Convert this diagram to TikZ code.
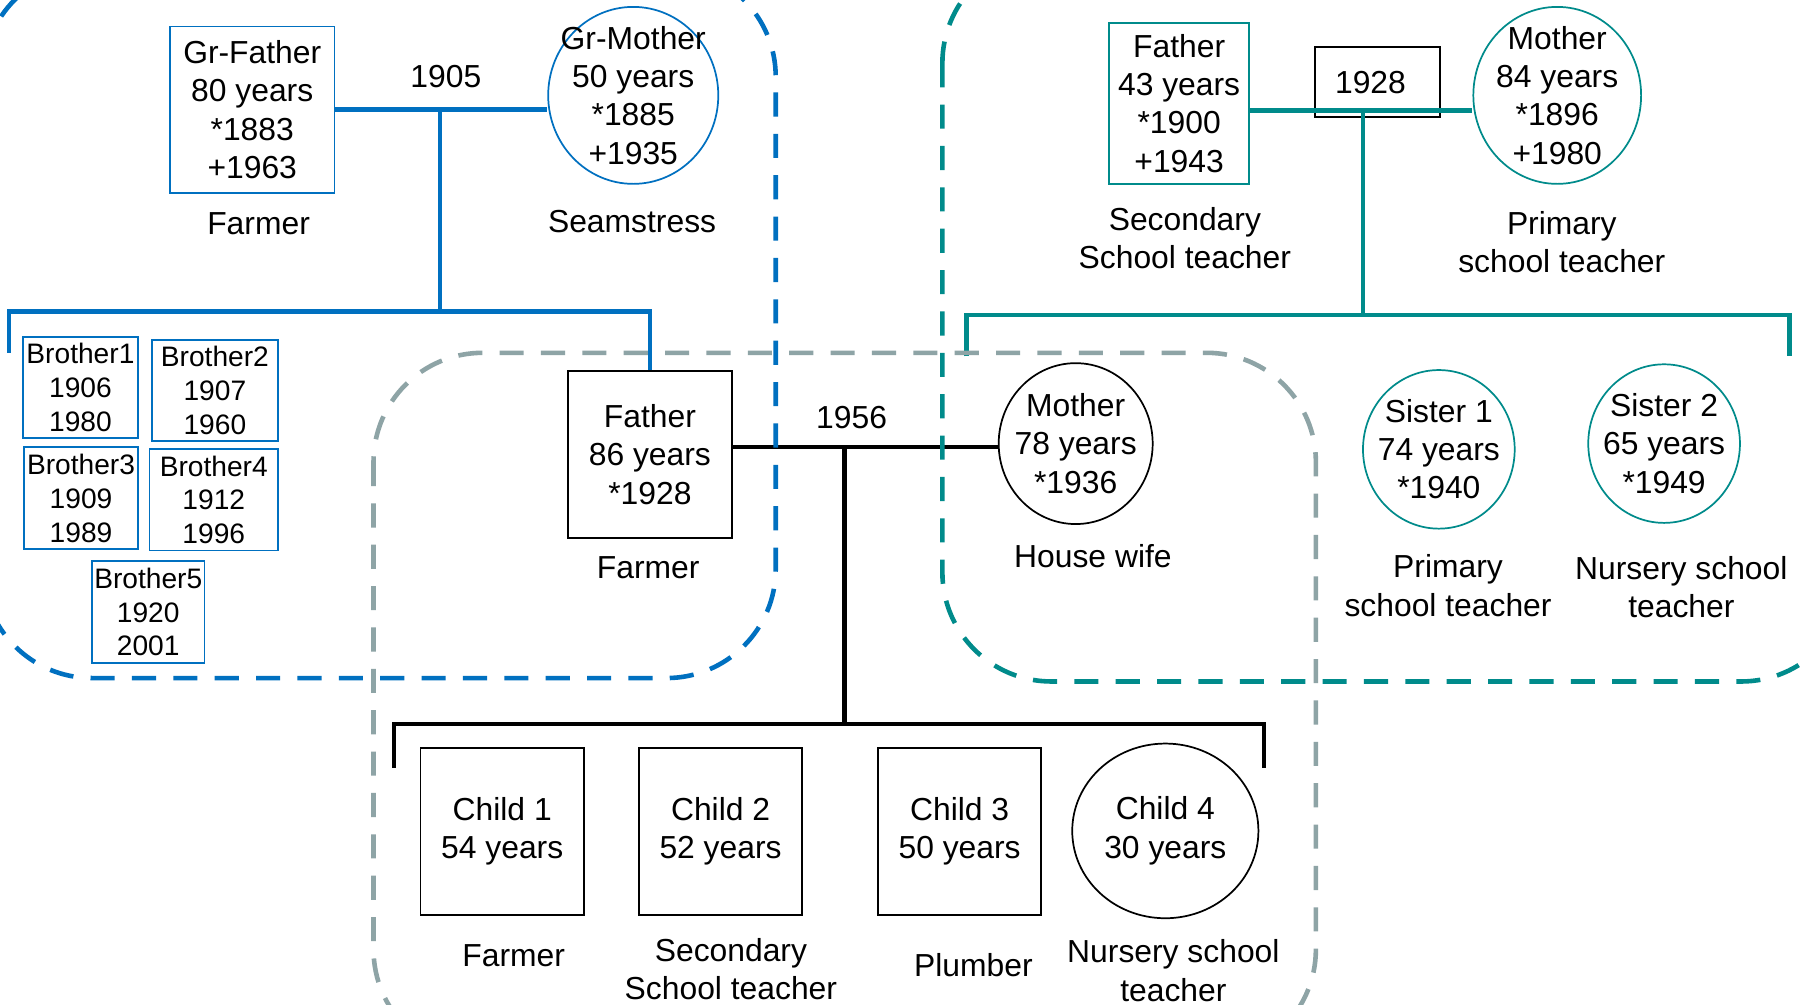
\documentclass[tikz,border=0pt]{standalone}
\usepackage{fontspec}
\setmainfont{Liberation Sans}
\usetikzlibrary{shapes.geometric}
\definecolor{cblue}{HTML}{0070C0}
\definecolor{cteal}{HTML}{008B8B}
\definecolor{cgray}{HTML}{8EA4A6}
\tikzset{
  txt/.style={font=\fontsize{27.7}{33.3}\selectfont, align=center, inner sep=0pt},
  smalltxt/.style={font=\fontsize{24.5}{29.5}\selectfont, align=center, inner sep=0pt},
  boxb/.style={txt, rectangle, draw=cblue, line width=1.5pt},
  boxsb/.style={smalltxt, rectangle, draw=cblue, line width=1.5pt},
  boxt/.style={txt, rectangle, draw=cteal, line width=1.5pt},
  boxk/.style={txt, rectangle, draw=black, line width=1.5pt},
  ell/.style={ellipse, inner sep=0pt, line width=1.5pt},
  ellb/.style={ell, draw=cblue},
  ellt/.style={ell, draw=cteal},
  ellk/.style={ell, draw=black},
  ctext/.style={label={[txt]center:{#1}}},
  lbl/.style={txt},
  linb/.style={draw=cblue, line width=4pt},
  lint/.style={draw=cteal, line width=4pt},
  link/.style={draw=black, line width=4pt},
  frame/.style={line width=4pt, dash pattern=on 21pt off 15pt, rounded corners=95pt},
}
\begin{document}
\begin{tikzpicture}[x=1pt,y=-1pt]
\clip (0,0) rectangle (1568,874);
\fill[white] (0,0) rectangle (1568,874);

% ---------- nodes ----------
\node[boxb, minimum width=143pt, minimum height=145pt] (gf) at (219.5,95.5) {Gr-Father\\80 years\\*1883\\+1963};
\node[ellb, minimum width=148pt, minimum height=154pt, ctext={Gr-Mother\\50 years\\*1885\\+1935}] (gm) at (551,83) {};
\node[lbl] (gfl) at (225,195) {Farmer};
\node[lbl] (gml) at (550,193) {Seamstress};
\node[lbl] (y1905) at (388,67) {1905};

\node[boxsb, minimum width=100pt, minimum height=88pt] (b1) at (70,337) {Brother1\\1906\\1980};
\node[boxsb, minimum width=110pt, minimum height=88pt] (b2) at (187,340) {Brother2\\1907\\1960};
\node[boxsb, minimum width=99pt, minimum height=89pt] (b3) at (70.5,433.5) {Brother3\\1909\\1989};
\node[boxsb, minimum width=112pt, minimum height=88pt] (b4) at (186,435) {Brother4\\1912\\1996};
\node[boxsb, minimum width=98pt, minimum height=89pt] (b5) at (129,532.5) {Brother5\\1920\\2001};

\node[boxk, minimum width=143pt, minimum height=145pt] (fa) at (565.5,395.5) {Father\\86 years\\*1928};
\node[lbl] (fal) at (564,494) {Farmer};
\node[ellk, minimum width=134pt, minimum height=140pt, ctext={Mother\\78 years\\*1936}] (mo) at (936,386) {};
\node[lbl] (mol) at (951,484) {House wife};
\node[lbl] (y1956) at (741,363) {1956};

\node[boxt, minimum width=122pt, minimum height=140pt] (f2) at (1026,90) {Father\\43 years\\*1900\\+1943};
\node[lbl] (f2l) at (1031,207.5) {Secondary\\School teacher};
\node[ellt, minimum width=146pt, minimum height=154pt, ctext={Mother\\84 years\\*1896\\+1980}] (m2) at (1355,83) {};
\node[lbl] (m2l) at (1359,210.5) {Primary\\school teacher};
\node[boxk, minimum width=109pt, minimum height=61pt] (y1928) at (1198.5,71.5) {\hspace*{-12pt}1928};

\node[ellt, minimum width=132pt, minimum height=138pt, ctext={Sister 1\\74 years\\*1940}] (s1) at (1252,391) {};
\node[lbl] (s1l) at (1260,509.5) {Primary\\school teacher};
\node[ellt, minimum width=132pt, minimum height=138pt, ctext={Sister 2\\65 years\\*1949}] (s2) at (1448,386) {};
\node[lbl] (s2l) at (1463,511) {Nursery school\\teacher};

\node[boxk, minimum width=142pt, minimum height=145pt] (c1) at (437,723.5) {Child 1\\54 years};
\node[lbl] (c1l) at (447,832) {Farmer};
\node[boxk, minimum width=142pt, minimum height=145pt] (c2) at (627,723.5) {Child 2\\52 years};
\node[lbl] (c2l) at (636,843.5) {Secondary\\School teacher};
\node[boxk, minimum width=142pt, minimum height=145pt] (c3) at (835,723.5) {Child 3\\50 years};
\node[lbl] (c3l) at (847,840) {Plumber};
\node[ellk, minimum width=162pt, minimum height=152pt, ctext={Child 4\\30 years}] (c4) at (1014,723) {};
\node[lbl] (c4l) at (1021,844.5) {Nursery school\\teacher};

% ---------- connectors ----------
\coordinate (j1905) at (383,96);
\coordinate (s1905) at (383,271);
\coordinate (bL) at (8,271);
\coordinate (bLe) at (8,307);
\draw[linb] (gf.east) -- (gm.west |- gf.east);
\draw[linb] (j1905) -- (s1905);
\draw[linb] (bLe) -- (bL) -- (fa.north |- bL) -- (fa.north);

\coordinate (j1956) at (735,389);
\coordinate (s1956) at (735,630);
\coordinate (cL) at (343,630);
\coordinate (cLe) at (343,668);
\coordinate (cR) at (1100,630);
\coordinate (cRe) at (1100,668);
\draw[link] (fa.east |- j1956) -- (mo.west |- j1956);
\draw[link] (j1956) -- (s1956);
\draw[link] (cLe) -- (cL) -- (cR) -- (cRe);

\coordinate (j1928) at (1186,96);
\coordinate (s1928) at (1186,274);
\coordinate (tL) at (841,274);
\coordinate (tLe) at (841,310);
\coordinate (tR) at (1557,274);
\coordinate (tRe) at (1557,310);
\draw[lint] (f2.east |- j1928) -- (m2.west |- j1928);
\draw[lint] (j1928) -- (s1928);
\draw[lint] (tLe) -- (tL) -- (tR) -- (tRe);

% ---------- dashed family frames ----------
\draw[frame, cblue] (-15,-28) rectangle (675,590);
\draw[frame, cteal] (820,-40) rectangle (1610,593);
\draw[frame, cgray] (325,307) rectangle (1145,921);
\end{tikzpicture}
\end{document}
